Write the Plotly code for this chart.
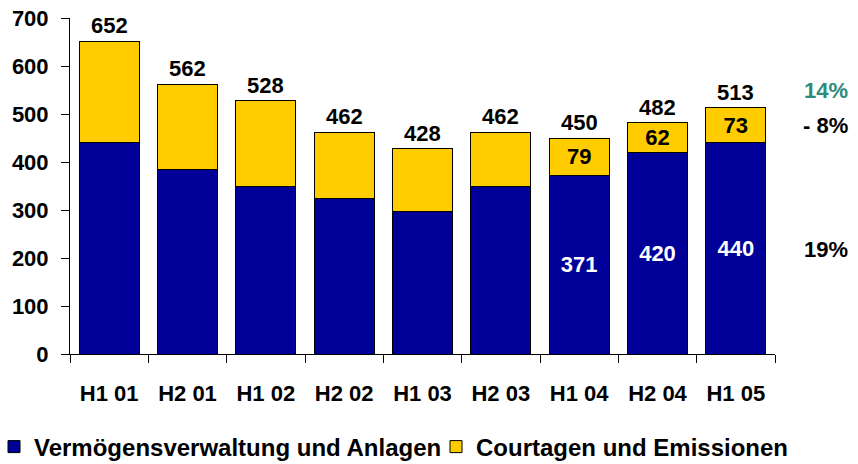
import plotly.graph_objects as go

categories = ["H1 01", "H2 01", "H1 02", "H2 02", "H1 03", "H2 03", "H1 04", "H2 04", "H1 05"]
verm = [440, 385, 350, 323, 296, 348, 371, 420, 440]
court = [212, 177, 178, 139, 132, 114, 79, 62, 73]
totals = [652, 562, 528, 462, 428, 462, 450, 482, 513]
verm_labels = ["", "", "", "", "", "", "371", "420", "440"]
court_labels = ["", "", "", "", "", "", "79", "62", "73"]
y_ticks = [0, 100, 200, 300, 400, 500, 600, 700]
side_labels = ["14%", "- 8%", "19%"]
side_y = [90, 125, 249]
side_colors = ["#2E8B7A", "#000000", "#000000"]

FONT = "Liberation Sans, Arial, sans-serif"
W, H = 858, 464
L, R, T = 70, 83, 18
plot_w = W - L - R
plot_h = 336
B = H - T - plot_h


def py2paper(py):
    return (T + plot_h - py) / plot_h


def px2paper(px):
    return (px - L) / plot_w


fig = go.Figure()
fig.add_trace(go.Bar(
    x=categories, y=verm, name="<b>Vermögensverwaltung und Anlagen</b>",
    marker=dict(color="#000099", line=dict(color="#000000", width=1)),
    text=verm_labels, textposition="inside", insidetextanchor="middle",
    textangle=0, constraintext="none", legend="legend",
    textfont=dict(color="white", size=22, family=FONT, weight="bold"),
))
fig.add_trace(go.Bar(
    x=categories, y=court, name="<b>Courtagen und Emissionen</b>",
    marker=dict(color="#FFCC00", line=dict(color="#000000", width=1)),
    text=court_labels, textposition="inside", insidetextanchor="middle",
    textangle=0, constraintext="none", legend="legend2",
    textfont=dict(color="black", size=22, family=FONT, weight="bold"),
))

for c, t in zip(categories, totals):
    fig.add_annotation(x=c, y=t, text=f"<b>{t}</b>", showarrow=False,
                       yanchor="bottom", yshift=1,
                       font=dict(size=22, color="black", family=FONT))

for lab, py, col in zip(side_labels, side_y, side_colors):
    fig.add_annotation(xref="paper", yref="paper", x=px2paper(850),
                       y=py2paper(py),
                       text=f"<b>{lab}</b>", showarrow=False, xanchor="right",
                       yanchor="middle", font=dict(size=22, color=col, family=FONT))

leg_common = dict(orientation="h", xanchor="left", y=py2paper(447), yanchor="middle",
                  font=dict(size=24, family=FONT, color="black"),
                  itemwidth=30, bgcolor="rgba(0,0,0,0)")

fig.update_layout(
    barmode="stack", bargap=0.234,
    width=W, height=H,
    margin=dict(l=L, r=R, t=T, b=B, autoexpand=False),
    plot_bgcolor="white", paper_bgcolor="white",
    font=dict(family=FONT, color="black"),
    showlegend=True,
    legend=dict(x=px2paper(-6), **leg_common),
    legend2=dict(x=px2paper(436), **leg_common),
    xaxis=dict(showline=True, linecolor="black", linewidth=1, automargin=False,
               ticks="outside", ticklen=8, tickcolor="black", tickson="boundaries",
               tickfont=dict(size=22, family=FONT, color="black", weight="bold"),
               ticklabelstandoff=20, showgrid=False),
    yaxis=dict(range=[0, 700], tickmode="array", tickvals=y_ticks,
               ticktext=[str(v) for v in y_ticks],
               showline=True, linecolor="black", linewidth=1,
               automargin=False,
               ticks="outside", ticklen=8, tickcolor="black", showgrid=False,
               zeroline=False,
               tickfont=dict(size=22, family=FONT, color="black", weight="bold"),
               ticklabelstandoff=8),
)

fig.write_html("out.html", config={"displayModeBar": False},
               post_script="document.body.style.margin='0';document.body.style.overflow='hidden';")
